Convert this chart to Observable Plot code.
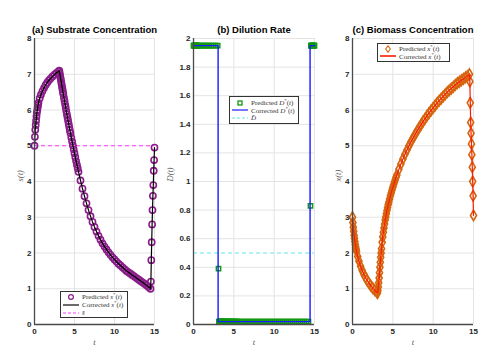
<!DOCTYPE html>
<html><head><meta charset="utf-8">
<script src="https://cdn.jsdelivr.net/npm/d3@7"></script>
<script src="https://cdn.jsdelivr.net/npm/@observablehq/plot@0.6"></script>
<style>
body{margin:0;background:#fff;}
#wrap{position:relative;width:504px;height:359px;overflow:hidden;font-family:"Liberation Sans",Arial,sans-serif;}
#wrap > svg{position:absolute;top:0;}
.leg{position:absolute;background:#fff;border:1px solid #333;font-family:"Liberation Serif","DejaVu Serif",serif;font-size:7px;color:#333;box-sizing:border-box;}
.row{position:absolute;left:1px;height:8px;display:flex;align-items:center;white-space:nowrap;}
.row svg{display:block;margin-right:2px;}
sup{font-size:5px;vertical-align:3px;}
</style></head><body><div id="wrap"></div>
<script>
// ---- data ----
const tPred = [
  0, 0.05, 0.1, 0.15, 0.2, 0.25, 0.3, 0.35, 0.4, 0.45, 0.5,
  0.65, 0.8, 1.0, 1.2, 1.4, 1.6, 1.8, 2.0, 2.25, 2.5, 2.75, 3.0,
  3.1,
  3.15, 3.2, 3.25, 3.3, 3.35, 3.4, 3.45, 3.5, 3.55, 3.6,
  3.675, 3.75, 3.825, 3.9, 3.975, 4.05, 4.125, 4.2, 4.275, 4.35,
  4.425, 4.5, 4.6, 4.7, 4.8, 4.9, 5.0, 5.1, 5.2, 5.3,
  5.4, 5.5,
  5.75, 6, 6.25, 6.5, 6.75, 7, 7.25, 7.5, 7.75, 8,
  8.25, 8.5, 8.75, 9, 9.25, 9.5, 9.75, 10, 10.25, 10.5,
  10.75, 11, 11.25, 11.5, 11.75, 12, 12.25, 12.5, 12.75, 13,
  13.25, 13.5, 13.75, 14, 14.25,
  14.5,
  14.55, 14.6, 14.65, 14.7, 14.75, 14.8, 14.85, 14.9, 14.95, 15
];
const sPred = [
  5.0, 5.25, 5.45, 5.58, 5.7, 5.82, 5.92, 6.0, 6.08, 6.14, 6.2,
  6.33, 6.43, 6.53, 6.62, 6.7, 6.77, 6.83, 6.88, 6.94, 6.99, 7.04, 7.08,
  7.1,
  7.03, 6.97, 6.9, 6.84, 6.77, 6.71, 6.64, 6.58, 6.51, 6.45,
  6.35, 6.26, 6.16, 6.07, 5.97, 5.88, 5.79, 5.7, 5.61, 5.52,
  5.43, 5.35, 5.23, 5.12, 5.01, 4.9, 4.79, 4.68, 4.57, 4.47,
  4.37, 4.27,
  4.03, 3.8, 3.59, 3.39, 3.2, 3.03, 2.87, 2.73, 2.6, 2.48,
  2.37, 2.27, 2.18, 2.1, 2.02, 1.95, 1.88, 1.82, 1.76, 1.7,
  1.65, 1.6, 1.55, 1.5, 1.46, 1.42, 1.38, 1.34, 1.3, 1.26,
  1.22, 1.18, 1.14, 1.1, 1.05,
  1.0,
  1.2, 1.8, 2.3, 2.8, 3.2, 3.6, 3.9, 4.3, 4.6, 4.95
];
const xPred = [
  3.0, 2.85, 2.72, 2.61, 2.5, 2.41, 2.32, 2.24, 2.17, 2.11, 2.05,
  1.9, 1.77, 1.63, 1.51, 1.41, 1.32, 1.24, 1.17, 1.09, 1.02, 0.96, 0.91,
  0.88,
  0.95, 1.05, 1.17, 1.3, 1.45, 1.6, 1.74, 1.88, 2.0, 2.12,
  2.3, 2.45, 2.58, 2.7, 2.81, 2.92, 3.01, 3.1, 3.19, 3.27,
  3.35, 3.42, 3.51, 3.6, 3.68, 3.76, 3.84, 3.91, 3.98, 4.05,
  4.12, 4.18,
  4.34, 4.49, 4.63, 4.76, 4.88, 5.0, 5.11, 5.21, 5.31, 5.41,
  5.5, 5.59, 5.68, 5.76, 5.84, 5.92, 5.99, 6.06, 6.13, 6.2,
  6.26, 6.32, 6.38, 6.44, 6.5, 6.55, 6.6, 6.65, 6.7, 6.75,
  6.79, 6.83, 6.87, 6.91, 6.95,
  7.0,
  6.8, 6.2, 5.65, 5.35, 5.05, 4.75, 4.4, 4.0, 3.6, 3.05
];
const DPred = [
  1.95, 1.95, 1.95, 1.95, 1.95, 1.95, 1.95, 1.95, 1.95, 1.95, 1.95,
  1.95, 1.95, 1.95, 1.95, 1.95, 1.95, 1.95, 1.95, 1.95, 1.95, 1.95, 1.95,
  0.39,
  0.02, 0.02, 0.02, 0.02, 0.02, 0.02, 0.02, 0.02, 0.02, 0.02,
  0.02, 0.02, 0.02, 0.02, 0.02, 0.02, 0.02, 0.02, 0.02, 0.02,
  0.02, 0.02, 0.02, 0.02, 0.02, 0.02, 0.02, 0.02, 0.02, 0.02,
  0.02, 0.02,
  0.02, 0.02, 0.02, 0.02, 0.02, 0.02, 0.02, 0.02, 0.02, 0.02,
  0.02, 0.02, 0.02, 0.02, 0.02, 0.02, 0.02, 0.02, 0.02, 0.02,
  0.02, 0.02, 0.02, 0.02, 0.02, 0.02, 0.02, 0.02, 0.02, 0.02,
  0.02, 0.02, 0.02, 0.02, 0.02,
  0.83,
  1.95, 1.95, 1.95, 1.95, 1.95, 1.95, 1.95, 1.95, 1.95, 1.95
];
const tCorrD = [0, 3.05, 3.05, 14.45, 14.45, 15];
const DCorr  = [1.95, 1.95, 0.02, 0.02, 1.95, 1.95];
const sBar = [5];
const DBar = [0.5];
const xTicks = [0, 5, 10, 15];
const sTicks = [0, 1, 2, 3, 4, 5, 6, 7, 8];
const DTicks = [0, 0.2, 0.4, 0.6, 0.8, 1, 1.2, 1.4, 1.6, 1.8, 2];
const bTicks = [0, 1, 2, 3, 4, 5, 6, 7, 8];

const wrap = document.getElementById("wrap");
const serif = "Liberation Serif, DejaVu Serif, serif";

function panel({left, width, ml, mr, yDomain, yTicks, yFmt, title, ylab, yLabDx, marks}) {
  const p = Plot.plot({
    width, height: 359, marginLeft: ml, marginRight: mr, marginTop: 38, marginBottom: 35,
    style: {fontFamily: "Liberation Sans, Arial, sans-serif", fontSize: "8px", color: "#262626", background: "transparent", overflow: "visible"},
    x: {domain: [0, 15]},
    y: {domain: yDomain},
    marks: [
      Plot.gridX(xTicks, {stroke: "#e3e3e3", strokeOpacity: 1}),
      Plot.gridY(yTicks, {stroke: "#e3e3e3", strokeOpacity: 1}),
      ...marks,
      Plot.ruleX([0], {stroke: "#4a4a4a", strokeWidth: 1.3}),
      Plot.ruleY([yDomain[0]], {stroke: "#4a4a4a", strokeWidth: 1.3}),
      Plot.axisX(xTicks, {tickSize: 0, tickPadding: 4, fontWeight: "bold", label: null}),
      Plot.axisY(yTicks, {tickSize: 0, tickPadding: 3, fontWeight: "bold", label: null, tickFormat: yFmt}),
      Plot.text([title], {frameAnchor: "top", dy: -6, lineAnchor: "bottom", fontWeight: "bold", fontSize: 9.5, fill: "#000"}),
      Plot.text([ylab], {frameAnchor: "left", rotate: -90, dx: yLabDx, fontStyle: "italic", fontFamily: serif, fontSize: 8.5, fill: "#555"}),
      Plot.text(["t"], {frameAnchor: "bottom", dy: 20, fontStyle: "italic", fontFamily: serif, fontSize: 8.5, fill: "#555"})
    ]
  });
  p.style.left = left + "px";
  wrap.appendChild(p);
}

const fmt1 = d => String(+d.toFixed(1));

panel({
  left: 0, width: 160, ml: 34, mr: 6, yDomain: [0, 8], yTicks: sTicks, yFmt: fmt1,
  title: "(a) Substrate Concentration", ylab: "s(t)", yLabDx: -14,
  marks: [
    Plot.ruleY(sBar, {stroke: "#ff3dff", strokeDasharray: "4,3", strokeWidth: 1}),
    Plot.dot(tPred, {x: tPred, y: sPred, symbol: "circle", r: 3.1, stroke: "#8a1d8a", fill: "none", strokeWidth: 1.6}),
    Plot.line(tPred, {x: tPred, y: sPred, stroke: "#000", strokeWidth: 1.2})
  ]
});

panel({
  left: 160, width: 160, ml: 33, mr: 6, yDomain: [0, 2], yTicks: DTicks, yFmt: fmt1,
  title: "(b) Dilution Rate", ylab: "D(t)", yLabDx: -23,
  marks: [
    Plot.ruleY(DBar, {stroke: "#5fe6e6", strokeDasharray: "4,3", strokeWidth: 1}),
    Plot.dot(tPred, {x: tPred, y: DPred, symbol: "square", r: 2.4, stroke: "#119911", fill: "none", strokeWidth: 1.5}),
    Plot.line(tCorrD, {x: tCorrD, y: DCorr, stroke: "#1a1aff", strokeWidth: 1.4})
  ]
});

panel({
  left: 320, width: 184, ml: 32, mr: 31, yDomain: [0, 8], yTicks: bTicks, yFmt: fmt1,
  title: "(c) Biomass Concentration", ylab: "x(t)", yLabDx: -14,
  marks: [
    Plot.dot(tPred, {x: tPred, y: xPred, symbol: "diamond", r: 3.2, stroke: "#d4650f", fill: "none", strokeWidth: 1.6}),
    Plot.line(tPred, {x: tPred, y: xPred, stroke: "#ff1a00", strokeWidth: 1.2})
  ]
});

// ---- legends ----
function swatch(kind, color) {
  let inner = "";
  if (kind === "line") inner = `<line x1="1" x2="17" y1="4" y2="4" stroke="${color}" stroke-width="1.6"/>`;
  if (kind === "dash") inner = `<line x1="1" x2="17" y1="4" y2="4" stroke="${color}" stroke-width="1" stroke-dasharray="3,2"/>`;
  if (kind === "circle") inner = `<circle cx="9" cy="4" r="2.4" fill="none" stroke="${color}" stroke-width="1.2"/>`;
  if (kind === "square") inner = `<rect x="7" y="2" width="4" height="4" fill="none" stroke="${color}" stroke-width="1.3"/>`;
  if (kind === "diamond") inner = `<path d="M9,0.8L11.3,4L9,7.2L6.7,4Z" fill="none" stroke="${color}" stroke-width="1.1"/>`;
  return `<svg width="18" height="8">${inner}</svg>`;
}
function legend(left, top, w, h, rows) {
  const d = document.createElement("div");
  d.className = "leg";
  Object.assign(d.style, {left: left + "px", top: top + "px", width: w + "px", height: h + "px"});
  d.innerHTML = rows.map(r => `<div class="row" style="top:${r.y - 4}px">${swatch(r.kind, r.color)}<span>${r.html}</span></div>`).join("");
  wrap.appendChild(d);
}
legend(60, 291, 68, 27, [
  {y: 4.5, kind: "circle", color: "#8a1d8a", html: "Predicted <i>s</i><sup>*</sup>(<i>t</i>)"},
  {y: 12.5, kind: "line", color: "#444", html: "Corrected <i>s</i><sup>*</sup>(<i>t</i>)"},
  {y: 20.5, kind: "dash", color: "#ff3dff", html: "<i>s&#772;</i>"}
]);
legend(229, 96, 70, 28, [
  {y: 5.5, kind: "square", color: "#119911", html: "Predicted <i>D</i><sup>*</sup>(<i>t</i>)"},
  {y: 13, kind: "line", color: "#5555ff", html: "Corrected <i>D</i><sup>*</sup>(<i>t</i>)"},
  {y: 20.5, kind: "dash", color: "#5fe6e6", html: "<i>D&#772;</i>"}
]);
legend(377, 43, 73, 19, [
  {y: 4.5, kind: "diamond", color: "#d4650f", html: "Predicted <i>x</i><sup>*</sup>(<i>t</i>)"},
  {y: 12, kind: "line", color: "#ff1a00", html: "Corrected <i>x</i><sup>*</sup>(<i>t</i>)"}
]);
</script></body></html>
